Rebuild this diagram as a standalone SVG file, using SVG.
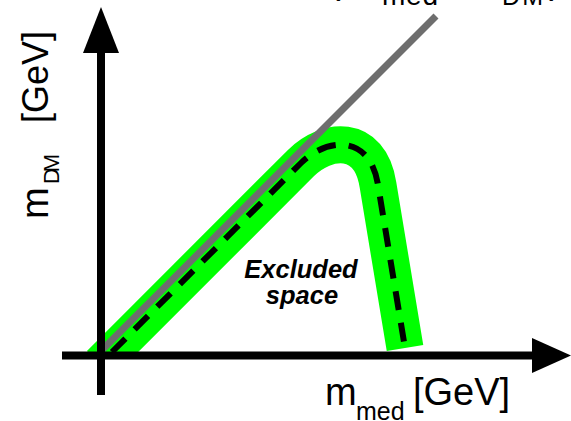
<svg xmlns="http://www.w3.org/2000/svg" width="571" height="421" viewBox="0 0 571 421">
<style>
.lbl{font-family:"Liberation Sans",Arial,sans-serif;fill:#000}
.ex{font-family:"Liberation Sans",Arial,sans-serif;font-weight:bold;font-style:italic;font-size:25.5px;text-anchor:middle;fill:#000}
.axis{stroke:#000;stroke-width:8;fill:none}
</style>
<defs>
<clipPath id="above"><rect x="0" y="0" width="571" height="355"/></clipPath>
</defs>
<rect width="571" height="421" fill="#fff"/>
<g id="limit-band" clip-path="url(#above)">
<path d="M 100,364 L 301,163 C 326,138 370,133 378,185 L 405,348" fill="none" stroke="#00ff00" stroke-width="37"/>
<path d="M 112,352 L 301,163 C 326,138 370,133 378,185 L 405,348" fill="none" stroke="#000" stroke-width="6" stroke-dasharray="19,13"/>
</g>
<g id="diagonal">
<line x1="99" y1="353" x2="436" y2="16" stroke="#6e6e6e" stroke-width="7"/>
</g>
<g id="connectors">
<line class="axis" x1="101" y1="395" x2="101" y2="50"/>
<polygon points="101,7 83,53 119,53" fill="#000"/>
<line class="axis" x1="62" y1="355.5" x2="535" y2="355.5"/>
<polygon points="571,355.5 532,338 532,373" fill="#000"/>
</g>
<g id="excluded-label">
<text class="ex" x="301" y="278">Excluded</text>
<text class="ex" x="302" y="304">space</text>
</g>
<g id="x-label">
<text class="lbl" x="325" y="405" font-size="38">m</text>
<text class="lbl" x="356" y="420" font-size="25">med</text>
<text class="lbl" x="413" y="405" font-size="38">[GeV]</text>
</g>
<g id="y-label" transform="rotate(-90)">
<text class="lbl" x="-219" y="48" font-size="38">m</text>
<text class="lbl" x="-184" y="59" font-size="22" textLength="30">DM</text>
<text class="lbl" x="-123" y="48" font-size="36">[GeV]</text>
</g>
<g id="top-label">
<text class="lbl" x="328" y="-7" font-size="38">(</text>
<text class="lbl" x="345" y="-9" font-size="38">m</text>
<text class="lbl" x="382" y="5" font-size="28" textLength="56">med</text>
<text class="lbl" x="444" y="-9" font-size="38">=</text>
<text class="lbl" x="468" y="-9" font-size="38">m</text>
<text class="lbl" x="502" y="5" font-size="25" textLength="41">DM</text>
<text class="lbl" x="549" y="-7" font-size="38">)</text>
</g>
</svg>
